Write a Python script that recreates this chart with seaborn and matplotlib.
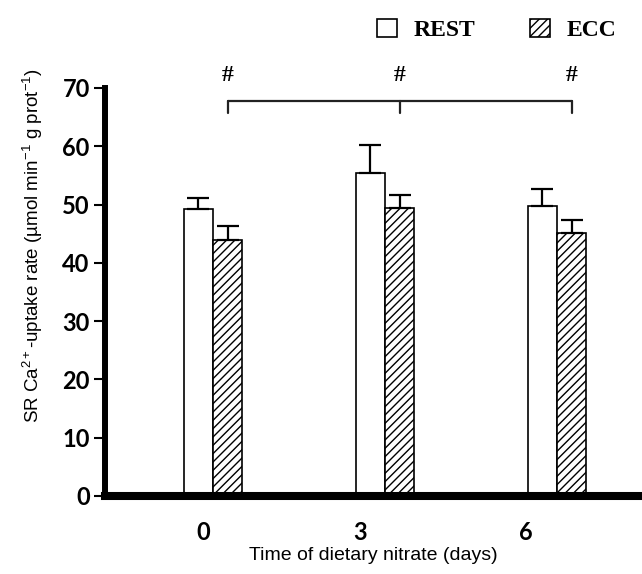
import matplotlib
matplotlib.use('Agg')
from matplotlib import pyplot as plt
from matplotlib.patches import Patch
import seaborn as sns
import pandas as pd

# ---------- PODATKI ----------
days = ['0', '3', '6']
groups = ['REST', 'ECC']
rest_mean = [49.3, 55.4, 49.7]
rest_sem = [1.9, 4.9, 2.9]
ecc_mean = [43.9, 49.4, 45.1]
ecc_sem = [2.5, 2.2, 2.3]
y_ticks = [0, 10, 20, 30, 40, 50, 60, 70]

df = pd.DataFrame({
    'day': days * 2,
    'group': ['REST'] * 3 + ['ECC'] * 3,
    'rate': rest_mean + ecc_mean,
    'sem': rest_sem + ecc_sem,
})

# ---------- SLOG ----------
sns.set_style('ticks', {'axes.edgecolor': 'black', 'xtick.color': 'black',
                        'ytick.color': 'black', 'text.color': 'black',
                        'axes.labelcolor': 'black'})
plt.rcParams['font.family'] = ['Liberation Sans', 'DejaVu Sans']
plt.rcParams['mathtext.fontset'] = 'custom'
plt.rcParams['mathtext.rm'] = 'Liberation Sans'
plt.rcParams['mathtext.it'] = 'Liberation Sans'
plt.rcParams['hatch.linewidth'] = 1.0

fig = plt.figure(figsize=(6.42, 5.74), dpi=100)
ax = fig.add_axes([0.1636, 0.1359, 0.8364, 0.7108])

sns.barplot(data=df, x='day', y='rate', hue='group', order=days, hue_order=groups,
            palette=['white', 'white'], width=0.34, errorbar=None, legend=False,
            edgecolor='black', linewidth=1.2, ax=ax)

# šrafura za ECC in napake (samo navzgor)
n = len(days)
centers = {}
for i, g in enumerate(groups):
    bars = ax.patches[i * n:(i + 1) * n]
    sub = df[df['group'] == g]
    xs = [b.get_x() + b.get_width() / 2 for b in bars]
    centers[g] = xs
    for b in bars:
        if g == 'ECC':
            b.set_hatch('////')
    ax.errorbar(xs, sub['rate'], yerr=[[0] * n, list(sub['sem'])], fmt='none',
                ecolor='black', elinewidth=1.6, capsize=8, capthick=1.6, zorder=1)

# oklepaj z oznakami #
bx = centers['ECC']
y_line, y_tick = 67.8, 65.7
ax.plot([bx[0], bx[-1]], [y_line, y_line], color='#222222', lw=1.6, clip_on=False)
for x in bx:
    ax.plot([x, x], [y_tick, y_line], color='#222222', lw=1.6, clip_on=False)
    ax.text(x, 70.3, '#', ha='center', va='bottom', fontsize=17, fontweight='bold',
            family='Liberation Serif', clip_on=False)

ax.set_ylim(0, 70)
ax.set_xlim(-0.628, 2.494)
ax.set_yticks(y_ticks)
ax.set_xticks([-0.058, 0.855, 1.82])
ax.set_xticklabels(days)
for lab in ax.get_xticklabels() + ax.get_yticklabels():
    lab.set_fontfamily('Lato')
    lab.set_fontweight('bold')
    lab.set_fontsize(17)
ax.tick_params(axis='x', length=0, pad=18)
ax.tick_params(axis='y', length=8, width=1.5, pad=3)

sns.despine(ax=ax)
ax.spines['left'].set_linewidth(4.3)
ax.spines['bottom'].set_linewidth(5.8)

ax.set_xlabel('Time of dietary nitrate (days)', fontsize=14, labelpad=2)
ax.set_ylabel('SR Ca$^{2+}$-uptake rate (µmol min$^{-1}$ g prot$^{-1}$)', fontsize=13.5)
ax.yaxis.set_label_coords(-0.112, 0.613)

handles = [Patch(facecolor='white', edgecolor='black', linewidth=1.2),
           Patch(facecolor='white', edgecolor='black', linewidth=1.2, hatch='////')]
fig.legend(handles, groups, loc='center left', bbox_to_anchor=(0.569, 0.948), ncol=2,
           frameon=False, borderpad=0, handlelength=0.85, handleheight=0.85,
           handletextpad=0.7, columnspacing=2.3,
           prop={'family': 'Liberation Serif', 'weight': 'bold', 'size': 17})

fig.savefig('out.png', dpi=100)
